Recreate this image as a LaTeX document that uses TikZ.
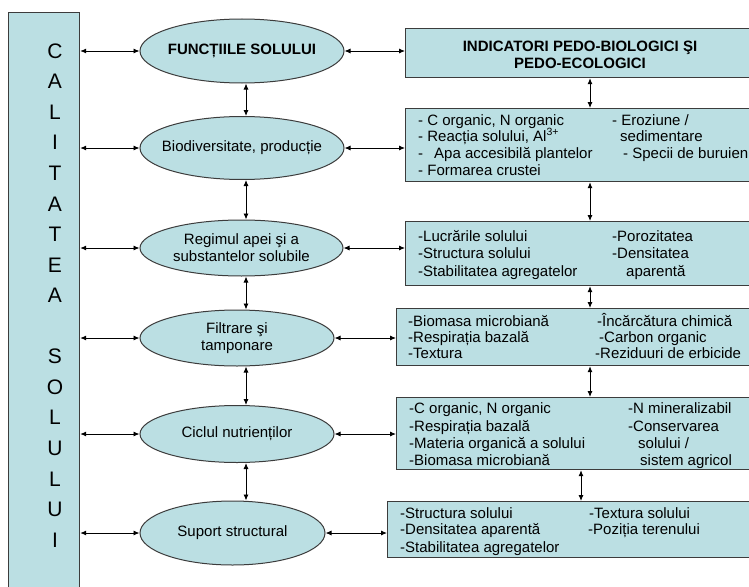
\documentclass[tikz,border=0pt]{standalone}
\usepackage{fontspec}
\setmainfont{Liberation Sans}
\usetikzlibrary{shapes.geometric,arrows.meta}
\definecolor{soilfill}{RGB}{187,223,227}
\definecolor{soilline}{RGB}{60,60,60}
\tikzset{
  panel/.style={draw=soilline, fill=soilfill, line width=1.2pt, inner sep=0pt},
  func/.style={ellipse, draw=soilline, fill=soilfill, line width=1pt, inner sep=0pt},
  functext/.style={inner sep=0pt, align=center, font=\fontsize{15}{17}\selectfont},
  ln/.style={anchor=base west, inner sep=0pt, font=\fontsize{15}{17}\selectfont},
  letter/.style={inner sep=0pt, font=\fontsize{21}{25}\selectfont},
  dbl/.style={{Latex[length=6pt,width=5pt]}-{Latex[length=6pt,width=5pt]}, line width=0.9pt, black}
}
\begin{document}
\begin{tikzpicture}[x=1pt,y=-1pt]
\useasboundingbox (0,0) rectangle (749,586);
\clip (0,0) rectangle (749,586);
\fill[white] (0,0) rectangle (749,586);

% left column: soil quality
\node[panel, anchor=north west, minimum width=71pt, minimum height=600pt] (Q) at (8,12) {};
\foreach \c [count=\i] in {C,A,L,I,T,A,T,E,A,{},S,O,L,U,L,U,I}
  \node[letter] (ch\i) at (55,{51+30.56*(\i-1)}) {\c};

% soil functions: ellipses of fixed size, labels set on top
\node[func, minimum width=204pt, minimum height=64pt] (E1) at (242,51) {};
\node[func, minimum width=204pt, minimum height=63pt] (E2) at (242,148) {};
\node[func, minimum width=203pt, minimum height=56pt] (E3) at (241.5,248) {};
\node[func, minimum width=194pt, minimum height=56pt] (E4) at (237,338) {};
\node[func, minimum width=194pt, minimum height=57pt] (E5) at (237,434) {};
\node[func, minimum width=185pt, minimum height=64pt] (E6) at (232.5,533) {};
\node[functext, font=\fontsize{15}{17}\selectfont\bfseries] (E1t) at (E1) {FUNCȚIILE SOLULUI};
\node[functext] (E2t) at (E2) {Biodiversitate, producție};
\node[functext] (E3t) at (E3) {Regimul apei şi a\\substantelor solubile};
\node[functext] (E4t) at (E4) {Filtrare şi\\tamponare};
\node[functext] (E5t) at (E5) {Ciclul nutrienților};
\node[functext] (E6t) at (E6) {Suport structural};

% indicator panels
\node[panel, anchor=north west, minimum width=350pt, minimum height=49pt] (B1) at (405,28) {};
\node[inner sep=0pt, align=center, font=\fontsize{15}{17}\selectfont\bfseries] (B1t) at (580,54.5)
  {INDICATORI PEDO-BIOLOGICI ŞI\\PEDO-ECOLOGICI};
\node[panel, anchor=north west, minimum width=350pt, minimum height=73pt] (B2) at (405,108) {};
\node[panel, anchor=north west, minimum width=350pt, minimum height=64pt] (B3) at (405,221) {};
\node[panel, anchor=north west, minimum width=359pt, minimum height=57pt] (B4) at (396,308) {};
\node[panel, anchor=north west, minimum width=359pt, minimum height=72pt] (B5) at (396,397) {};
\node[panel, anchor=north west, minimum width=368pt, minimum height=56pt] (B6) at (387,501) {};

% panel texts
\node[ln] (t21) at (418,125) {- C organic, N organic};
\node[ln] (t22) at (418,141) {- Reacția solului, Al\textsuperscript{3+}};
\node[ln] (t23) at (418,158) {-\hspace{11pt}Apa accesibilă plantelor};
\node[ln] (t24) at (418,175) {- Formarea crustei};
\node[ln] (t25) at (612,125) {- Eroziune /};
\node[ln] (t26) at (620,141) {sedimentare};
\node[ln] (t27) at (623,158) {- Specii de buruieni};

\node[ln] (t31) at (418,241) {-Lucrările solului};
\node[ln] (t32) at (418,258) {-Structura solului};
\node[ln] (t33) at (418,276) {-Stabilitatea agregatelor};
\node[ln] (t34) at (612,241) {-Porozitatea};
\node[ln] (t35) at (612,258) {-Densitatea};
\node[ln] (t36) at (626,276) {aparentă};

\node[ln] (t41) at (408,326) {-Biomasa microbiană};
\node[ln] (t42) at (408,342) {-Respirația bazală};
\node[ln] (t43) at (408,358) {-Textura};
\node[ln] (t44) at (597,326) {-Încărcătura chimică};
\node[ln] (t45) at (599,342) {-Carbon organic};
\node[ln] (t46) at (595,358) {-Reziduuri de erbicide};

\node[ln] (t51) at (409,413) {-C organic, N organic};
\node[ln] (t52) at (409,431) {-Respirația bazală};
\node[ln] (t53) at (409,448) {-Materia organică a solului};
\node[ln] (t54) at (409,465) {-Biomasa microbiană};
\node[ln] (t55) at (628,413) {-N mineralizabil};
\node[ln] (t56) at (628,431) {-Conservarea};
\node[ln] (t57) at (638,448) {solului /};
\node[ln] (t58) at (640,465) {sistem agricol};

\node[ln] (t61) at (400,518) {-Structura solului};
\node[ln] (t62) at (400,534) {-Densitatea aparentă};
\node[ln] (t63) at (400,552) {-Stabilitatea agregatelor};
\node[ln] (t64) at (589,518) {-Textura solului};
\node[ln] (t65) at (588,534) {-Poziția terenului};

% connectors
\coordinate (ex) at (246,0);
\coordinate (bx) at (590,0);
\coordinate (bx5) at (581,0);
\foreach \e/\b in {E1/B1,E2/B2,E3/B3,E4/B4,E5/B5,E6/B6} {
  \draw[dbl] (\e.west -| Q.east) -- (\e.west);
  \draw[dbl] (\e.east) -- (\e.east -| \b.west);
}
\foreach \a/\b in {E1/E2,E2/E3,E3/E4,E4/E5,E5/E6}
  \draw[dbl] (\a.south -| ex) -- (\b.north -| ex);
\foreach \a/\b in {B1/B2,B2/B3,B3/B4,B4/B5}
  \draw[dbl] (\a.south -| bx) -- (\b.north -| bx);
\draw[dbl] (B5.south -| bx5) -- (B6.north -| bx5);
\end{tikzpicture}
\end{document}
